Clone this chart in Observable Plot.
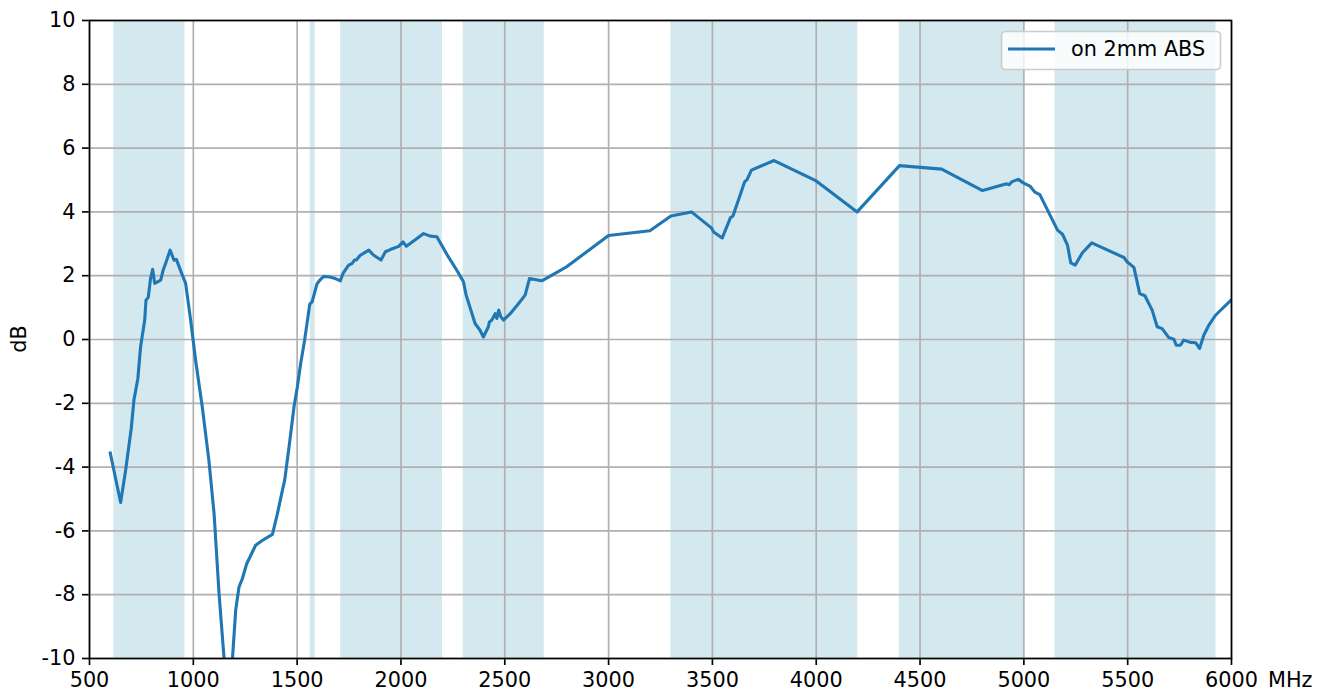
<!DOCTYPE html>
<html>
<head>
<meta charset="utf-8">
<script src="https://cdn.jsdelivr.net/npm/d3@7"></script>
<script src="https://cdn.jsdelivr.net/npm/@observablehq/plot@0.6"></script>
<style>
  html, body { margin: 0; padding: 0; background: white; }
  #chart { width: 1327px; height: 696px; overflow: hidden; }
  svg g[aria-label^="x-axis"] path, svg g[aria-label^="x-axis"] line,
  svg g[aria-label^="y-axis"] path, svg g[aria-label^="y-axis"] line { stroke-width: 1.67px; stroke: black; }
</style>
</head>
<body>
<div id="chart"></div>
<script>
// Frequency (MHz) and gain (dB) of the "on 2mm ABS" curve
const freq = [600,650,674,701,714,733,746,766,772,783,794,804,814,843,855,868,888,907,918,926,947,963,987,1011,1043,1075,1100,1124,1160,1188,1204,1220,1236,1257,1273,1300,1332,1381,1405,1429,1440,1461,1469,1485,1501,1517,1536,1561,1572,1596,1612,1628,1657,1684,1708,1721,1748,1764,1776,1785,1804,1845,1869,1904,1925,1949,1989,2010,2026,2069,2109,2141,2173,2221,2269,2301,2314,2357,2381,2397,2413,2421,2426,2438,2454,2462,2471,2481,2494,2526,2561,2598,2619,2638,2678,2734,2798,3000,3199,3300,3399,3495,3506,3547,3587,3599,3655,3667,3688,3797,4000,4197,4401,4604,4801,4917,4929,4941,4973,4997,5029,5053,5077,5162,5186,5210,5226,5247,5282,5327,5482,5498,5530,5558,5583,5618,5642,5666,5698,5722,5734,5754,5770,5802,5827,5846,5867,5891,5923,6000];
const gain = [-3.56,-5.11,-4.10,-2.79,-1.90,-1.22,-0.23,0.61,1.23,1.32,1.91,2.20,1.76,1.86,2.18,2.41,2.80,2.49,2.51,2.38,2.02,1.76,0.61,-0.65,-2.11,-3.79,-5.46,-7.97,-11.0,-10.06,-8.49,-7.76,-7.50,-7.03,-6.82,-6.45,-6.30,-6.11,-5.46,-4.73,-4.41,-3.37,-2.95,-2.11,-1.49,-0.75,-0.02,1.11,1.18,1.75,1.88,1.98,1.96,1.91,1.84,2.07,2.33,2.38,2.49,2.49,2.64,2.80,2.64,2.49,2.75,2.82,2.92,3.06,2.92,3.13,3.32,3.24,3.22,2.67,2.17,1.81,1.39,0.50,0.29,0.08,0.29,0.40,0.55,0.61,0.81,0.66,0.92,0.71,0.61,0.81,1.08,1.39,1.91,1.89,1.84,2.04,2.28,3.26,3.41,3.87,4.00,3.50,3.37,3.18,3.82,3.87,4.94,5.01,5.31,5.61,4.97,4.00,5.45,5.34,4.67,4.88,4.85,4.94,5.02,4.91,4.81,4.62,4.54,3.43,3.30,2.96,2.40,2.33,2.72,3.03,2.57,2.43,2.26,1.44,1.37,0.92,0.40,0.34,0.06,0.01,-0.18,-0.18,-0.02,-0.09,-0.10,-0.28,0.14,0.45,0.76,1.25];

// Shaded frequency bands (MHz)
const bandStart = [617, 1563, 1710, 2300, 3300, 4400, 5150];
const bandEnd   = [960, 1587, 2200, 2690, 4200, 5000, 5925];

// Axis ticks
const xTicks = [500,1000,1500,2000,2500,3000,3500,4000,4500,5000,5500,6000];
const yTicks = [-10,-8,-6,-4,-2,0,2,4,6,8,10];

const seriesName = "on 2mm ABS";
const xLabel = "MHz";
const yLabel = "dB";

const points = freq.map((f, i) => ({f, g: gain[i]}));
const bands = bandStart.map((s, i) => ({s, e: bandEnd[i]}));

const W = 1327, H = 696;
const mL = 89, mR = 96, mT = 20, mB = 38;
const blue = "#1f77b4";

const plot = Plot.plot({
  width: W, height: H,
  marginLeft: mL, marginRight: mR, marginTop: mT, marginBottom: mB,
  style: {fontFamily: "'DejaVu Sans', sans-serif", fontSize: "20.8px", color: "black", background: "white", overflow: "visible"},
  x: {domain: [500, 6000], ticks: xTicks, tickSize: 7, tickPadding: 7, tickFormat: d => String(d), label: null},
  y: {domain: [-10, 10], ticks: yTicks, tickSize: 7, tickPadding: 7, tickFormat: d => String(d), label: null},
  marks: [
    Plot.rect(bands, {x1: "s", x2: "e", fill: "#d4e8f0"}),
    Plot.ruleX(xTicks, {stroke: "#b0b0b0", strokeOpacity: 1, strokeWidth: 1.67}),
    Plot.ruleY(yTicks, {stroke: "#b0b0b0", strokeOpacity: 1, strokeWidth: 1.67}),
    Plot.line(points, {x: "f", y: "g", stroke: blue, strokeWidth: 3.1, strokeLinejoin: "round", strokeLinecap: "square", clip: true}),
    Plot.frame({stroke: "black", strokeWidth: 1.67})
  ]
});

document.getElementById("chart").appendChild(plot);

const svg = d3.select(plot);
// axis labels
svg.append("text")
  .attr("x", 1268).attr("y", 672).attr("dy", "0.71em")
  .attr("text-anchor", "start")
  .attr("font-family", "'DejaVu Sans', sans-serif").attr("font-size", "20.8px")
  .attr("fill", "black").text(xLabel);
svg.append("text")
  .attr("transform", `translate(26, ${(mT + H - mB) / 2}) rotate(-90)`)
  .attr("text-anchor", "middle")
  .attr("font-family", "'DejaVu Sans', sans-serif").attr("font-size", "20.8px")
  .attr("fill", "black").text(yLabel);

// legend
const lg = svg.append("g");
lg.append("rect")
  .attr("x", 1001.5).attr("y", 31.5).attr("width", 219).attr("height", 38)
  .attr("rx", 4).attr("ry", 4)
  .attr("fill", "white").attr("fill-opacity", 0.8)
  .attr("stroke", "#cccccc").attr("stroke-width", 1.67);
lg.append("line")
  .attr("x1", 1008).attr("x2", 1055).attr("y1", 49).attr("y2", 49)
  .attr("stroke", blue).attr("stroke-width", 3.1);
lg.append("text")
  .attr("x", 1071).attr("y", 49).attr("dy", "0.35em")
  .attr("text-anchor", "start")
  .attr("font-family", "'DejaVu Sans', sans-serif").attr("font-size", "20.8px")
  .attr("fill", "black").text(seriesName);
</script>
</body>
</html>
